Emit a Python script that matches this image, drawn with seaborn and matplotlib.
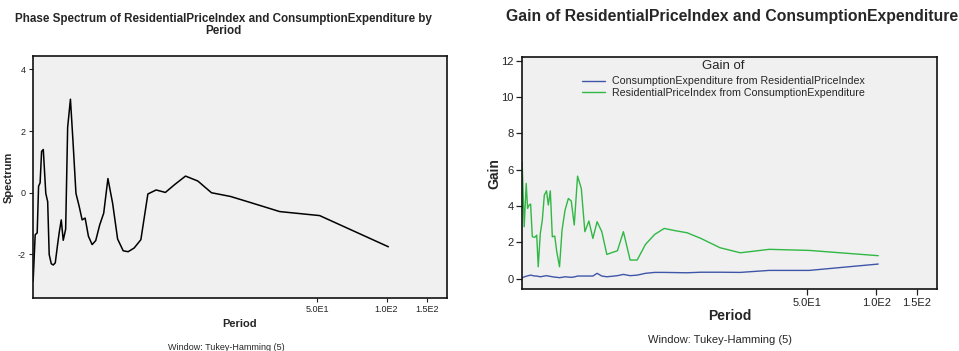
import matplotlib
matplotlib.use("Agg")
import matplotlib.pyplot as plt
import seaborn as sns
import pandas as pd

# Period grid (shared by phase and gain estimates)
period = [2.894, 2.954, 3.014, 3.056, 3.103, 3.150, 3.204, 3.285, 3.348, 3.399,
          3.471, 3.541, 3.613, 3.693, 3.760, 3.836, 3.913, 4.009, 4.090, 4.206,
          4.313, 4.445, 4.594, 4.729, 4.873, 5.037, 5.228, 5.419, 5.641, 5.871,
          6.124, 6.419, 6.749, 7.137, 7.502, 7.966, 8.520, 9.140, 9.931, 10.89,
          11.98, 13.33, 15.08, 17.29, 20.92, 25.63, 34.26, 51.13, 101.8]

# Phase spectrum
phase = [-2.86, -1.36, -1.30, 0.21, 0.32, 1.34, 1.40, -0.02, -0.29, -2.00,
         -2.30, -2.34, -2.27, -1.71, -1.28, -0.88, -1.54, -1.18, 2.12, 3.03,
         1.69, -0.02, -0.45, -0.88, -0.82, -1.41, -1.68, -1.55, -1.04, -0.66,
         0.46, -0.34, -1.50, -1.88, -1.91, -1.79, -1.52, -0.04, 0.09, 0.01,
         0.27, 0.54, 0.38, 0.00, -0.12, -0.32, -0.61, -0.74, -1.75]

# Gain estimates
gain_ce_from_rpi = [0.06, 0.10, 0.14, 0.16, 0.18, 0.20, 0.18, 0.15, 0.15, 0.13,
                    0.11, 0.13, 0.15, 0.17, 0.15, 0.13, 0.11, 0.09, 0.08, 0.06,
                    0.08, 0.11, 0.09, 0.08, 0.10, 0.15, 0.15, 0.15, 0.15, 0.15,
                    0.30, 0.15, 0.11, 0.14, 0.17, 0.24, 0.17, 0.20, 0.30, 0.35,
                    0.35, 0.34, 0.33, 0.36, 0.36, 0.35, 0.46, 0.46, 0.81]
gain_rpi_from_ce = [6.44, 2.86, 5.25, 3.87, 4.06, 4.11, 2.31, 2.28, 2.40, 0.66,
                    2.50, 3.23, 4.61, 4.84, 4.06, 4.84, 2.31, 2.35, 1.50, 0.66,
                    2.68, 3.78, 4.42, 4.28, 2.96, 5.65, 4.97, 2.59, 3.18, 2.22,
                    3.14, 2.59, 1.34, 1.45, 1.54, 2.59, 1.03, 1.03, 1.89, 2.44,
                    2.77, 2.65, 2.53, 2.22, 1.71, 1.43, 1.62, 1.56, 1.27]

series_names = ["ConsumptionExpenditure from ResidentialPriceIndex",
                "ResidentialPriceIndex from ConsumptionExpenditure"]
series_colors = ["#3f56a8", "#30b845"]

x_ticks = [50, 100, 150]
x_tick_labels = ["5.0E1", "1.0E2", "1.5E2"]

sns.set_theme(style="white")
plt.rcParams["font.family"] = ["Liberation Sans", "DejaVu Sans"]

fig = plt.figure(figsize=(9.59, 3.51), dpi=100)
face = "#f0f0f0"

# ---------- Phase spectrum ----------
ax1 = fig.add_axes([33 / 959, 1 - 297.7 / 351, 413.7 / 959, 241.7 / 351])
ax1.set_facecolor(face)
sns.lineplot(x=period, y=phase, ax=ax1, color="black", linewidth=1.1,
             estimator=None)
ax1.set_xscale("log")
ax1.set_xlim(2.89, 182.7)
ax1.set_ylim(-3.40, 4.43)
ax1.set_yticks([-2, 0, 2, 4])
ax1.set_yticklabels(["-2", "0", "2", "4"])
ax1.xaxis.set_major_locator(matplotlib.ticker.FixedLocator(x_ticks))
ax1.xaxis.set_minor_locator(matplotlib.ticker.NullLocator())
ax1.set_xticklabels(x_tick_labels)
ax1.tick_params(axis="both", which="major", direction="out", length=3,
                width=0.8, labelsize=6.5, colors="#222222", pad=2,
                bottom=True, left=True)
for s in ax1.spines.values():
    s.set_color("#111111")
    s.set_linewidth(1.2)
ax1.set_xlabel("Period", fontsize=8, fontweight="bold", labelpad=4)
ax1.set_ylabel("Spectrum", fontsize=8, fontweight="bold", labelpad=3)
fig.text(223 / 959, 1 - 25 / 351,
         "Phase Spectrum of ResidentialPriceIndex and ConsumptionExpenditure by\nPeriod",
         ha="center", va="center", fontsize=8.4, fontweight="bold",
         linespacing=0.95)
fig.text(226 / 959, 1 - 347 / 351, "Window: Tukey-Hamming (5)",
         ha="center", va="center", fontsize=6.5)

# ---------- Gain ----------
gain_df = pd.DataFrame({
    "Period": period * 2,
    "Gain": gain_ce_from_rpi + gain_rpi_from_ce,
    "series": [series_names[0]] * len(period) + [series_names[1]] * len(period),
})
ax2 = fig.add_axes([522 / 959, 1 - 289.3 / 351, 414.7 / 959, 232 / 351])
ax2.set_facecolor(face)
sns.lineplot(data=gain_df, x="Period", y="Gain", hue="series",
             palette=dict(zip(series_names, series_colors)), ax=ax2,
             linewidth=1.0, estimator=None)
ax2.set_xscale("log")
ax2.set_xlim(2.89, 182.7)
ax2.set_ylim(-0.58, 12.19)
ax2.set_yticks([0, 2, 4, 6, 8, 10, 12])
ax2.xaxis.set_major_locator(matplotlib.ticker.FixedLocator(x_ticks))
ax2.xaxis.set_minor_locator(matplotlib.ticker.NullLocator())
ax2.set_xticklabels(x_tick_labels)
ax2.tick_params(axis="both", which="major", direction="out", length=4,
                width=0.9, labelsize=8, colors="#222222", pad=2,
                bottom=True, left=True)
for s in ax2.spines.values():
    s.set_color("#111111")
    s.set_linewidth(1.2)
ax2.set_xlabel("Period", fontsize=10, fontweight="bold", labelpad=1)
ax2.set_ylabel("Gain", fontsize=10, fontweight="bold", labelpad=0)
handles, labels = ax2.get_legend_handles_labels()
leg = ax2.legend(handles, labels, title="Gain of", loc="upper center",
                 bbox_to_anchor=(0.485, 1.02), frameon=False, fontsize=7.7,
                 title_fontsize=9.5, handlelength=2.2, handletextpad=0.6,
                 labelspacing=0.12, borderaxespad=0.3)
leg._legend_box.sep = 3
fig.text(732 / 959, 1 - 17 / 351,
         "Gain of ResidentialPriceIndex and ConsumptionExpenditure",
         ha="center", va="center", fontsize=11.3, fontweight="bold")
fig.text(720 / 959, 1 - 340 / 351, "Window: Tukey-Hamming (5)",
         ha="center", va="center", fontsize=8)

fig.savefig("out.png", dpi=100, facecolor="white")
